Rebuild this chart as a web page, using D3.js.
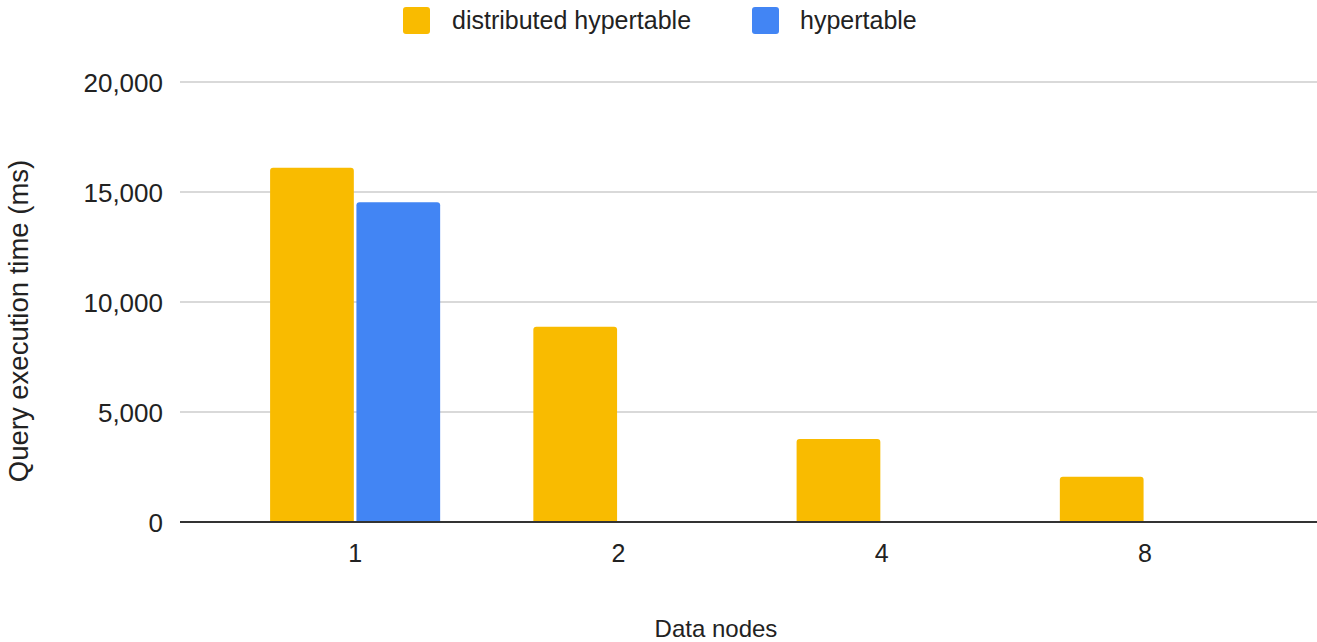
<!DOCTYPE html>
<html>
<head>
<meta charset="utf-8">
<script src="https://cdn.jsdelivr.net/npm/d3@7"></script>
<style>
  html, body { margin: 0; padding: 0; background: #fff; }
  svg { display: block; font-family: "Liberation Sans", Arial, sans-serif; }
</style>
</head>
<body>
<svg id="chart" width="1317" height="642"></svg>
<script>
const categories = ["1", "2", "4", "8"];
const seriesNames = ["distributed hypertable", "hypertable"];
const distributedValues = [16100, 8880, 3770, 2060];
const hypertableValues = [14530, null, null, null];
const yTicks = [0, 5000, 10000, 15000, 20000];
const colors = ["#F9BB00", "#4285F4"];

const svg = d3.select("#chart");
const plotLeft = 180, plotRight = 1317;

const y = d3.scaleLinear().domain([0, 20000]).range([522, 82]);
const x0 = d3.scaleBand().domain(categories).range([223.5, 1276.5]).paddingInner(0.354).paddingOuter(0.177);
const x1 = d3.scaleBand().domain(seriesNames).range([0, x0.bandwidth()]).paddingInner(0.03);

// gridlines
svg.append("g").selectAll("line").data(yTicks.filter(d => d !== 0)).join("line")
  .attr("x1", plotLeft).attr("x2", plotRight)
  .attr("y1", d => y(d)).attr("y2", d => y(d))
  .attr("stroke", "#cccccc").attr("stroke-width", 1.5);

// y axis labels
const yAxis = d3.axisLeft(y).tickValues(yTicks).tickSize(0).tickPadding(0).tickFormat(d3.format(","));
const gy = svg.append("g").attr("transform", `translate(163,0)`).call(yAxis);
gy.select(".domain").remove();
gy.selectAll("text").attr("font-size", 26).attr("fill", "#222").attr("dy", "0.35em")
  .attr("font-family", "'Liberation Sans', Arial, sans-serif");

// bars
const data = categories.map((c, i) => ({
  cat: c,
  vals: [
    { s: seriesNames[0], v: distributedValues[i], c: colors[0] },
    { s: seriesNames[1], v: hypertableValues[i], c: colors[1] }
  ]
}));

function roundedTop(x, yTop, w, h, r) {
  r = Math.min(r, w / 2, h);
  return `M${x},${yTop + h}V${yTop + r}Q${x},${yTop} ${x + r},${yTop}H${x + w - r}Q${x + w},${yTop} ${x + w},${yTop + r}V${yTop + h}Z`;
}

const groups = svg.append("g").selectAll("g").data(data).join("g")
  .attr("transform", d => `translate(${x0(d.cat)},0)`);
groups.selectAll("path").data(d => d.vals.filter(v => v.v != null && v.v > 0)).join("path")
  .attr("d", d => roundedTop(x1(d.s), y(d.v), x1.bandwidth(), y(0) - y(d.v), 3))
  .attr("fill", d => d.c);

// zero baseline
svg.append("line").attr("x1", plotLeft).attr("x2", plotRight)
  .attr("y1", y(0)).attr("y2", y(0)).attr("stroke", "#333").attr("stroke-width", 2);

// x axis labels
const xAxis = d3.axisBottom(x0).tickSize(0).tickPadding(0);
const gx = svg.append("g").attr("transform", `translate(0,${y(0)})`).call(xAxis);
gx.select(".domain").remove();
gx.selectAll("text").attr("font-size", 25).attr("fill", "#222").attr("dy", "0").attr("y", 40)
  .attr("font-family", "'Liberation Sans', Arial, sans-serif");

// axis titles
svg.append("text").attr("x", 716).attr("y", 637).attr("text-anchor", "middle")
  .attr("font-size", 24).attr("fill", "#222").text("Data nodes");
svg.append("text").attr("transform", "translate(28,321) rotate(-90)").attr("text-anchor", "middle")
  .attr("font-size", 27.5).attr("fill", "#222").text("Query execution time (ms)");

// legend
const legendItems = [
  { name: seriesNames[0], color: colors[0], x: 403, tx: 452 },
  { name: seriesNames[1], color: colors[1], x: 752, tx: 800 }
];
const lg = svg.append("g").selectAll("g").data(legendItems).join("g");
lg.append("rect").attr("x", d => d.x).attr("y", 7).attr("width", 27).attr("height", 27)
  .attr("rx", 3).attr("fill", d => d.color);
lg.append("text").attr("x", d => d.tx).attr("y", 29).attr("font-size", 25).attr("fill", "#222")
  .text(d => d.name);
</script>
</body>
</html>
